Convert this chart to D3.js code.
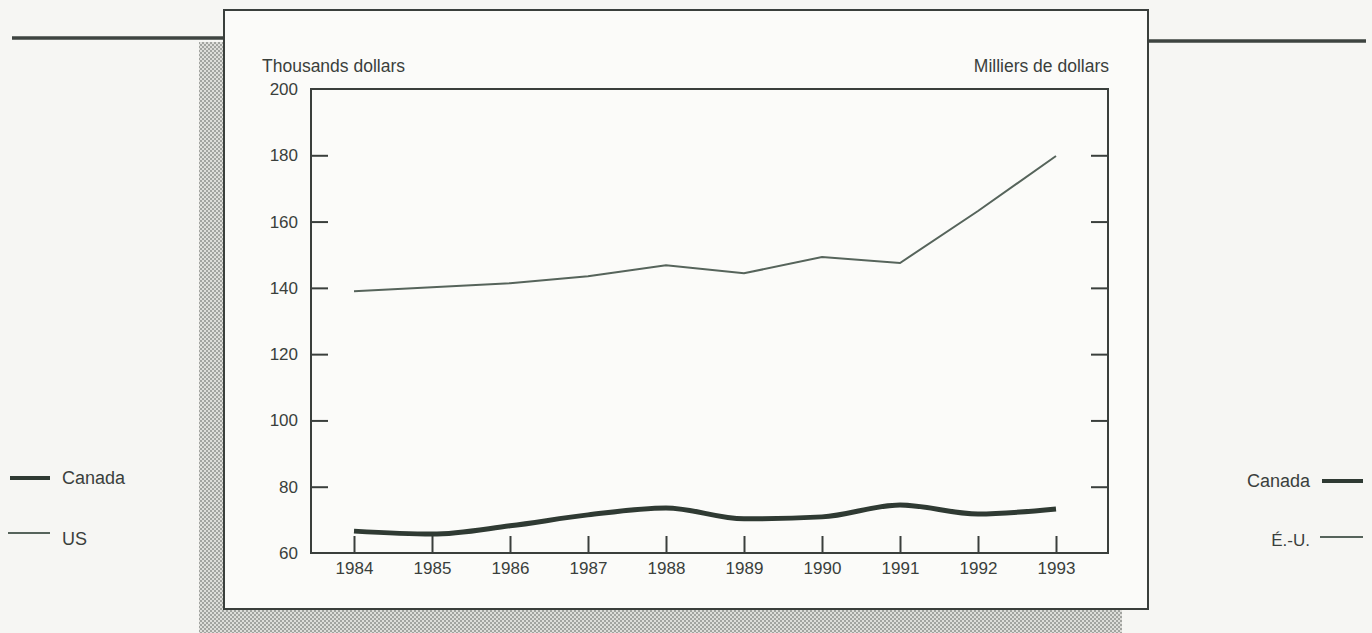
<!DOCTYPE html>
<html>
<head>
<meta charset="utf-8">
<script src="https://cdn.jsdelivr.net/npm/d3@7"></script>
<style>
  html, body { margin: 0; padding: 0; background: #f6f6f3; }
  svg { display: block; }
  text { font-family: "Liberation Sans", Arial, Helvetica, sans-serif; fill: #3a3f3c; }
</style>
</head>
<body>
<svg id="chart" width="1372" height="633"></svg>
<script>
const years = [1984, 1985, 1986, 1987, 1988, 1989, 1990, 1991, 1992, 1993];
const canada = [66.6, 65.7, 68.2, 71.5, 73.6, 70.3, 70.9, 74.5, 71.8, 73.3];
const us = [139.0, 140.2, 141.4, 143.5, 146.8, 144.4, 149.3, 147.5, 163.2, 179.8];
const yTicks = [60, 80, 100, 120, 140, 160, 180, 200];
const leftTitle = "Thousands dollars";
const rightTitle = "Milliers de dollars";
const legendLeft = ["Canada", "US"];
const legendRight = ["Canada", "É.-U."];

const svg = d3.select("#chart");
const ink = "#3a3f3c";

// stipple pattern for the shadow
const defs = svg.append("defs");
const pat = defs.append("pattern").attr("id", "dots")
  .attr("width", 4).attr("height", 4).attr("patternUnits", "userSpaceOnUse");
pat.append("rect").attr("width", 4).attr("height", 4).attr("fill", "#dededa");
pat.append("rect").attr("x", 0).attr("y", 0).attr("width", 2).attr("height", 2).attr("fill", "#a2a4a0");
pat.append("rect").attr("x", 2).attr("y", 2).attr("width", 2).attr("height", 2).attr("fill", "#a2a4a0");

// rules
svg.append("line").attr("x1", 12).attr("x2", 224).attr("y1", 38).attr("y2", 38)
  .attr("stroke", "#3e4440").attr("stroke-width", 3.5);
svg.append("line").attr("x1", 1148).attr("x2", 1366).attr("y1", 41).attr("y2", 41)
  .attr("stroke", "#3e4440").attr("stroke-width", 3.5);

// shadow and box
svg.append("rect").attr("x", 199).attr("y", 42).attr("width", 923).attr("height", 591)
  .attr("fill", "url(#dots)");
svg.append("rect").attr("x", 224).attr("y", 10).attr("width", 924).attr("height", 599)
  .attr("fill", "#fbfbf9").attr("stroke", ink).attr("stroke-width", 2);

// scales
const plot = { left: 311, right: 1108, top: 89, bottom: 553 };
const x = d3.scaleLinear().domain([1984, 1993]).range([354, 1056]);
const y = d3.scaleLinear().domain([60, 200]).range([plot.bottom, plot.top]);

// titles
svg.append("text").attr("x", 262).attr("y", 72).attr("font-size", 17.5).text(leftTitle);
svg.append("text").attr("x", 1109).attr("y", 72).attr("font-size", 17.5)
  .attr("text-anchor", "end").text(rightTitle);

// axes
const gL = svg.append("g").attr("transform", `translate(${plot.left},0)`)
  .call(d3.axisLeft(y).tickValues(yTicks).tickSize(-17).tickPadding(13));
const gR = svg.append("g").attr("transform", `translate(${plot.right},0)`)
  .call(d3.axisRight(y).tickValues(yTicks.slice(1, -1)).tickSize(-17).tickFormat(""));
const gB = svg.append("g").attr("transform", `translate(0,${plot.bottom})`)
  .call(d3.axisBottom(x).tickValues(years).tickFormat(d3.format("d")).tickSize(-17).tickPadding(9));
[gL, gR, gB].forEach(g => {
  g.select(".domain").remove();
  g.selectAll(".tick line").attr("stroke", ink).attr("stroke-width", 2);
  g.selectAll(".tick text").attr("fill", ink).attr("font-size", 17)
    .attr("font-family", "'Liberation Sans', Arial, sans-serif");
});
gL.selectAll(".tick").filter(d => d === 60 || d === 200).select("line").remove();

// plot frame
svg.append("rect").attr("x", plot.left).attr("y", plot.top)
  .attr("width", plot.right - plot.left).attr("height", plot.bottom - plot.top)
  .attr("fill", "none").attr("stroke", ink).attr("stroke-width", 2);

// lines
const lineUS = d3.line().x((d, i) => x(years[i])).y(d => y(d));
const lineCA = d3.line().x((d, i) => x(years[i])).y(d => y(d)).curve(d3.curveMonotoneX);
svg.append("path").datum(us).attr("d", lineUS).attr("fill", "none")
  .attr("stroke", "#56645b").attr("stroke-width", 2);
svg.append("path").datum(canada).attr("d", lineCA).attr("fill", "none")
  .attr("stroke", "#2f3a33").attr("stroke-width", 5).attr("stroke-linejoin", "round");

// legends
const legL = [
  { label: legendLeft[0], ly: 478, ty: 484, w: 4, x1: 10 },
  { label: legendLeft[1], ly: 533, ty: 545, w: 2, x1: 8 }
];
legL.forEach(d => {
  svg.append("line").attr("x1", d.x1).attr("x2", 50).attr("y1", d.ly).attr("y2", d.ly)
    .attr("stroke", d.w > 3 ? "#2f3a33" : "#56645b").attr("stroke-width", d.w);
  svg.append("text").attr("x", 62).attr("y", d.ty).attr("font-size", 18).text(d.label);
});
const legR = [
  { label: legendRight[0], ly: 481, ty: 487, w: 4, x1: 1322, tx: 1310, fs: 18 },
  { label: legendRight[1], ly: 537, ty: 546, w: 2, x1: 1320, tx: 1310, fs: 17 }
];
legR.forEach(d => {
  svg.append("line").attr("x1", d.x1).attr("x2", 1363).attr("y1", d.ly).attr("y2", d.ly)
    .attr("stroke", d.w > 3 ? "#2f3a33" : "#56645b").attr("stroke-width", d.w);
  svg.append("text").attr("x", d.tx).attr("y", d.ty).attr("font-size", d.fs)
    .attr("text-anchor", "end").text(d.label);
});
</script>
</body>
</html>
